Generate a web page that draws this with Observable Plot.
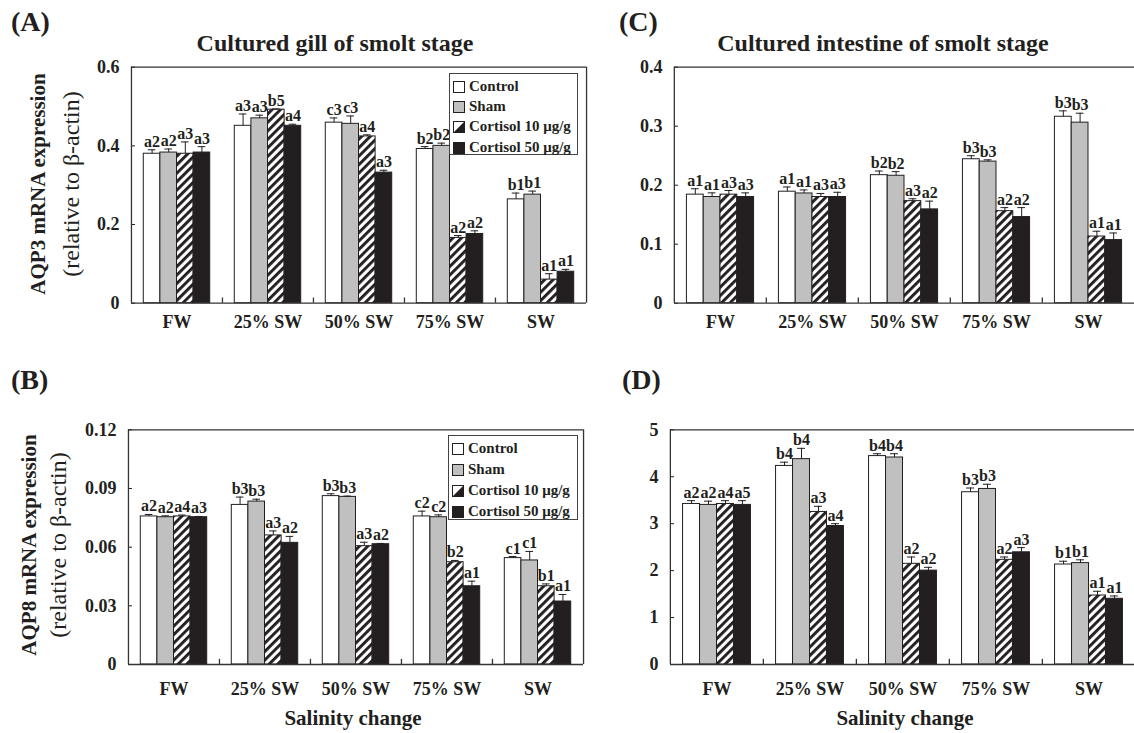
<!DOCTYPE html>
<html>
<head>
<meta charset="utf-8">
<script src="https://cdn.jsdelivr.net/npm/d3@7"></script>
<script src="https://cdn.jsdelivr.net/npm/@observablehq/plot@0.6"></script>
<style>
  html, body { margin: 0; padding: 0; background: #fff; overflow: hidden; }
  #root { position: relative; width: 1134px; height: 733px; overflow: hidden;
          font-family: "Liberation Serif", "Times New Roman", serif; color: #231f20; }
  .t { position: absolute; white-space: nowrap; line-height: 1; }
  .legend { position: absolute; background: #fff; border: 1px solid #444; box-sizing: border-box;
            font-weight: bold; font-size: 15px; }
  .legend .row { position: absolute; left: 3px; display: flex; align-items: center; line-height: 1; }
  .legend svg { margin-right: 4px; }
</style>
</head>
<body>
<svg width="0" height="0" style="position:absolute">
  <defs>
    <pattern id="hatch" patternUnits="userSpaceOnUse" width="6" height="6" patternTransform="rotate(45)">
      <rect width="6" height="6" fill="#ffffff"></rect>
      <rect width="2.9" height="6" fill="#231f20"></rect>
    </pattern>
  </defs>
</svg>
<div id="root"></div>
<script>
// ---------- data ----------
const groups = ["FW", "25% SW", "50% SW", "75% SW", "SW"];
const series = ["Control", "Sham", "Cortisol 10 μg/g", "Cortisol 50 μg/g"];

// (A) AQP3, cultured gill (rows = groups, cols = series)
const gillAqp3Mean = [
  [0.380, 0.383, 0.380, 0.383],
  [0.451, 0.470, 0.492, 0.451],
  [0.459, 0.456, 0.424, 0.332],
  [0.392, 0.400, 0.166, 0.176],
  [0.264, 0.276, 0.060, 0.080]
];
const gillAqp3Err = [
  [0.010, 0.009, 0.030, 0.015],
  [0.030, 0.008, 0.002, 0.004],
  [0.012, 0.020, 0.004, 0.006],
  [0.006, 0.007, 0.006, 0.008],
  [0.016, 0.009, 0.015, 0.006]
];
const gillAqp3Letters = [
  ["a2", "a2", "a3", "a3"],
  ["a3", "a3", "b5", "a4"],
  ["c3", "c3", "a4", "a3"],
  ["b2", "b2", "a2", "a2"],
  ["b1", "b1", "a1", "a1"]
];
const gillAqp3Ticks = [0, 0.2, 0.4, 0.6];

// (B) AQP8, cultured gill
const gillAqp8Mean = [
  [0.0757, 0.0753, 0.0757, 0.0753],
  [0.0816, 0.0833, 0.0660, 0.0622],
  [0.0861, 0.0857, 0.0605, 0.0615],
  [0.0757, 0.0753, 0.0523, 0.0400],
  [0.0544, 0.0532, 0.0400, 0.0322]
];
const gillAqp8Err = [
  [0.0010, 0.0007, 0.0007, 0.0004],
  [0.0040, 0.0012, 0.0023, 0.0033],
  [0.0012, 0.0004, 0.0020, 0.0004],
  [0.0027, 0.0012, 0.0009, 0.0026],
  [0.0008, 0.0046, 0.0012, 0.0036]
];
const gillAqp8Letters = [
  ["a2", "a2", "a4", "a3"],
  ["b3", "b3", "a3", "a2"],
  ["b3", "b3", "a3", "a2"],
  ["c2", "c2", "b2", "a1"],
  ["c1", "c1", "b1", "a1"]
];
const gillAqp8Ticks = [0, 0.03, 0.06, 0.09, 0.12];

// (C) AQP3, cultured intestine
const intAqp3Mean = [
  [0.184, 0.180, 0.184, 0.180],
  [0.189, 0.186, 0.180, 0.180],
  [0.217, 0.216, 0.173, 0.159],
  [0.244, 0.240, 0.156, 0.146],
  [0.316, 0.306, 0.113, 0.107]
];
const intAqp3Err = [
  [0.010, 0.007, 0.007, 0.007],
  [0.008, 0.006, 0.006, 0.008],
  [0.007, 0.007, 0.004, 0.014],
  [0.006, 0.003, 0.006, 0.016],
  [0.010, 0.016, 0.009, 0.012]
];
const intAqp3Letters = [
  ["a1", "a1", "a3", "a3"],
  ["a1", "a1", "a3", "a3"],
  ["b2", "b2", "a3", "a2"],
  ["b3", "b3", "a2", "a2"],
  ["b3", "b3", "a1", "a1"]
];
const intAqp3Ticks = [0, 0.1, 0.2, 0.3, 0.4];

// (D) AQP8, cultured intestine
const intAqp8Mean = [
  [3.42, 3.40, 3.42, 3.40],
  [4.23, 4.375, 3.25, 2.95],
  [4.44, 4.41, 2.145, 2.00],
  [3.67, 3.74, 2.23, 2.39],
  [2.13, 2.16, 1.47, 1.40]
];
const intAqp8Err = [
  [0.07, 0.08, 0.07, 0.09],
  [0.08, 0.23, 0.12, 0.05],
  [0.05, 0.08, 0.145, 0.07],
  [0.09, 0.10, 0.06, 0.10],
  [0.07, 0.07, 0.09, 0.06]
];
const intAqp8Letters = [
  ["a2", "a2", "a4", "a5"],
  ["b4", "b4", "a3", "a4"],
  ["b4", "b4", "a2", "a2"],
  ["b3", "b3", "a2", "a3"],
  ["b1", "b1", "a1", "a1"]
];
const intAqp8Ticks = [0, 1, 2, 3, 4, 5];

const seriesFills = ["#ffffff", "#c0c0c0", "url(#hatch)", "#231f20"];
const INK = "#231f20";

// ---------- drawing ----------
const root = document.getElementById("root");

function addText(txt, x, y, opts = {}) {
  const d = document.createElement("div");
  d.className = "t";
  d.textContent = txt;
  d.style.left = x + "px";
  d.style.top = y + "px";
  d.style.fontSize = (opts.size || 18) + "px";
  d.style.fontWeight = opts.weight || "bold";
  const tx = opts.anchor === "start" ? "0" : "-50%";
  d.style.transform = `translate(${tx}, -50%)` + (opts.rotate ? ` rotate(${opts.rotate}deg)` : "");
  root.appendChild(d);
  return d;
}

function panel(cfg) {
  const rows = [];
  groups.forEach((g, i) => series.forEach((s, j) => rows.push({
    group: g, series: s, mean: cfg.mean[i][j], err: cfg.err[i][j], letter: cfg.letters[i][j]
  })));
  const plotW = cfg.width - cfg.ml - cfg.mr;
  const facetW = plotW / groups.length;
  const pad = 0.74;
  const step = facetW / (series.length + 2 * pad);
  const edge = step * (pad + 0.5);
  const ymax = cfg.ticks[cfg.ticks.length - 1];
  const last = groups[groups.length - 1];

  const svg = Plot.plot({
    width: cfg.width,
    height: cfg.height,
    marginLeft: cfg.ml,
    marginRight: cfg.mr,
    marginTop: cfg.mt,
    marginBottom: cfg.mb,
    style: {fontFamily: '"Liberation Serif", "Times New Roman", serif', fontSize: "18px",
            fontWeight: "bold", color: INK, background: "transparent", overflow: "visible"},
    fx: {domain: groups, padding: 0, label: null, axis: "bottom", tickSize: 0, tickPadding: cfg.fxPad},
    x: {domain: series, paddingInner: 0, paddingOuter: pad, axis: null, round: false},
    y: {domain: [0, ymax], ticks: cfg.ticks, tickFormat: d => String(d), tickSize: -4, tickPadding: 16, label: null},
    color: {type: "ordinal", domain: series, range: seriesFills},
    marks: [
      Plot.barY(rows, {fx: "group", x: "series", y: "mean", fill: "series", stroke: INK, strokeWidth: 1}),
      Plot.ruleX(rows, {fx: "group", x: "series", y1: "mean", y2: d => d.mean + d.err, stroke: INK, strokeWidth: 1}),
      Plot.tickY(rows, {fx: "group", x: "series", y: d => d.mean + d.err, insetLeft: 4.5, insetRight: 4.5, stroke: INK, strokeWidth: 1}),
      Plot.text(rows, {fx: "group", x: "series", y: d => d.mean + d.err, text: "letter", dy: -3,
                       lineAnchor: "bottom", fontSize: 16, fontWeight: "bold", fill: INK}),
      // frame: bottom & top
      Plot.ruleY([0, ymax], {stroke: "#333", strokeWidth: 1.3}),
      // left edge (first facet) and short separators between groups
      Plot.ruleX(groups, {fx: d => d, x: () => series[0], dx: -edge, y1: 0,
                          y2: (d, i) => i === 0 ? ymax : ymax * 0.022, stroke: "#333", strokeWidth: 1.3}),
      // right edge (last facet)
      Plot.ruleX([last], {fx: d => d, x: () => series[series.length - 1], dx: edge, y1: 0, y2: ymax,
                          stroke: "#333", strokeWidth: 1.3})
    ]
  });
  svg.style.position = "absolute";
  svg.style.left = cfg.left + "px";
  svg.style.top = cfg.top + "px";
  root.appendChild(svg);
}

function legend(x, y, w, h, rowYs) {
  const box = document.createElement("div");
  box.className = "legend";
  Object.assign(box.style, {left: x + "px", top: y + "px", width: w + "px", height: h + "px"});
  series.forEach((s, i) => {
    const r = document.createElement("div");
    r.className = "row";
    r.style.top = (rowYs[i] - 7) + "px";
    let sw;
    if (i === 2) {
      sw = `<svg width="12" height="12"><rect x="0.5" y="0.5" width="11" height="11" fill="#fff" stroke="${INK}"/><polygon points="11.5,0.5 11.5,11.5 0.5,11.5" fill="${INK}"/></svg>`;
    } else {
      sw = `<svg width="12" height="12"><rect x="0.5" y="0.5" width="11" height="11" fill="${seriesFills[i]}" stroke="${INK}"/></svg>`;
    }
    r.innerHTML = sw + "<span>" + s + "</span>";
    box.appendChild(r);
  });
  root.appendChild(box);
}

// Panel A
panel({mean: gillAqp3Mean, err: gillAqp3Err, letters: gillAqp3Letters, ticks: gillAqp3Ticks,
       left: 0, top: 50, width: 600, height: 300, ml: 130, mr: 14, mt: 16.7, mb: 47.3, fxPad: 12});
// Panel C
panel({mean: intAqp3Mean, err: intAqp3Err, letters: intAqp3Letters, ticks: intAqp3Ticks,
       left: 580, top: 50, width: 560, height: 300, ml: 92, mr: 4, mt: 16.7, mb: 47.3, fxPad: 12});
// Panel B
panel({mean: gillAqp8Mean, err: gillAqp8Err, letters: gillAqp8Letters, ticks: gillAqp8Ticks,
       left: 0, top: 415, width: 600, height: 285, ml: 127, mr: 17, mt: 14.3, mb: 36, fxPad: 18});
// Panel D
panel({mean: intAqp8Mean, err: intAqp8Err, letters: intAqp8Letters, ticks: intAqp8Ticks,
       left: 580, top: 415, width: 560, height: 285, ml: 88, mr: 4, mt: 14.3, mb: 36, fxPad: 18});

legend(449, 73, 129, 82, [12, 32, 52, 73]);
legend(448, 435, 130, 85, [12, 33, 54, 75]);

// panel letters
addText("(A)", 11, 22, {size: 28, anchor: "start"});
addText("(B)", 11, 380, {size: 28, anchor: "start"});
addText("(C)", 619, 22, {size: 28, anchor: "start"});
addText("(D)", 622, 380, {size: 28, anchor: "start"});

// titles
addText("Cultured gill of smolt stage", 335, 43, {size: 24});
addText("Cultured intestine of smolt stage", 883, 43, {size: 24});

// y-axis titles
addText("AQP3 mRNA expression", 38, 184, {size: 21, rotate: -90});
addText("(relative to β-actin)", 71, 184, {size: 24, weight: "normal", rotate: -90});
addText("AQP8 mRNA expression", 29, 545, {size: 21, rotate: -90});
addText("(relative to β-actin)", 58, 545, {size: 24, weight: "normal", rotate: -90});

// x-axis titles
addText("Salinity change", 353, 718, {size: 21});
addText("Salinity change", 905, 718, {size: 21});
</script>
</body>
</html>
